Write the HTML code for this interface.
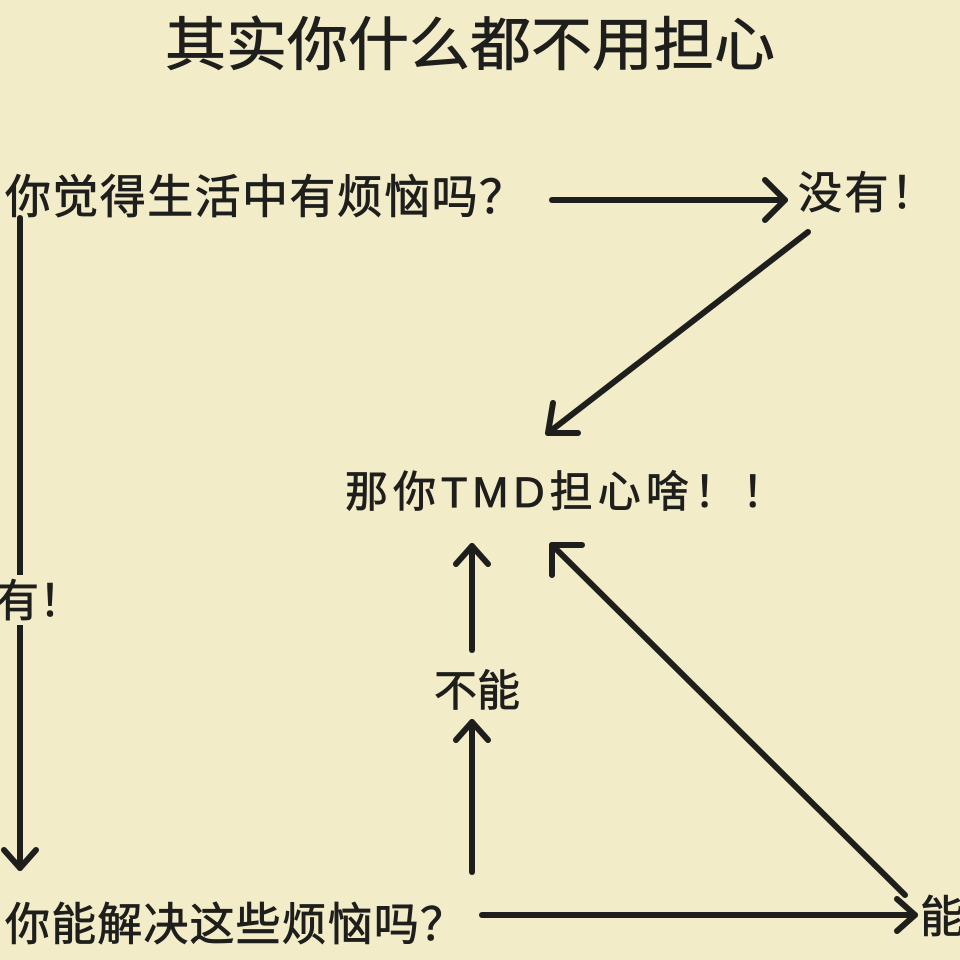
<!DOCTYPE html>
<html><head><meta charset="utf-8"><style>
html,body{margin:0;padding:0;background:#f3ecc9;}
svg{display:block}
text{font-family:"Liberation Sans","Noto Sans CJK SC",sans-serif;fill:#1e1e1c;stroke:#1e1e1c;stroke-width:0.8;}
</style></head><body>
<svg width="960" height="960" viewBox="0 0 960 960">
<rect width="960" height="960" fill="#f3ecc9"/>
<g stroke="#1e1e1c" stroke-width="6" fill="none" stroke-linecap="round" stroke-linejoin="round">
<line x1="552" y1="200" x2="785" y2="200"/><polyline points="765,180 785,200 765,220"/>
<line x1="808" y1="232" x2="548" y2="433"/><polyline points="553,403 548,433 578,433"/>
<line x1="20" y1="218" x2="20" y2="868"/><polyline points="4,850 20,868 36,850"/>
<line x1="482" y1="915" x2="915" y2="915"/><polyline points="897,899 915,915 897,931"/>
<line x1="472" y1="872" x2="472" y2="722"/><polyline points="456,740 472,722 488,740"/>
<line x1="472" y1="650" x2="472" y2="546"/><polyline points="456,564 472,546 488,564"/>
<line x1="905" y1="895" x2="552" y2="545"/><polyline points="552,575 552,545 582,545"/>
</g>
<text x="165" y="65" font-size="58" textLength="610" lengthAdjust="spacingAndGlyphs">其实你什么都不用担心</text>
<text x="5" y="213" font-size="46" textLength="520" lengthAdjust="spacing">你觉得生活中有烦恼吗？</text>
<text x="798" y="208" font-size="44" textLength="137" lengthAdjust="spacing">没有！</text>
<text x="345" y="507" font-size="43" textLength="440" lengthAdjust="spacing">那你TMD担心啥！！</text>
<rect x="0" y="575" width="80" height="50" fill="#f3ecc9"/>
<text x="-5" y="616" font-size="44">有！</text>
<text x="434" y="706" font-size="43">不能</text>
<text x="5" y="940" font-size="45" textLength="460" lengthAdjust="spacing">你能解决这些烦恼吗？</text>
<text x="920" y="932" font-size="44">能</text>
</svg>
</body></html>
